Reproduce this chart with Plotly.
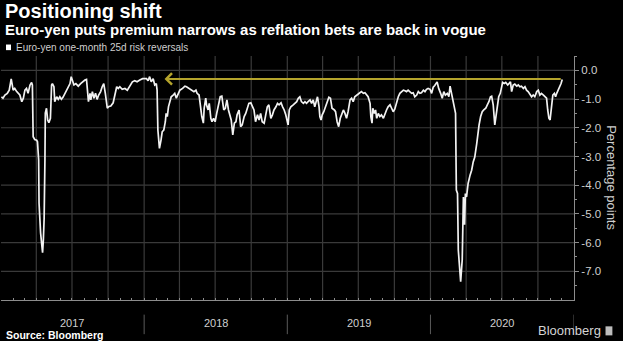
import plotly.graph_objects as go

# ---- data ----
d2017 = ["2017-01-02","2017-01-06","2017-01-11","2017-01-17","2017-01-22","2017-01-27","2017-02-01","2017-02-05",
         "2017-02-10","2017-02-14","2017-02-18","2017-02-23","2017-02-27","2017-03-03","2017-03-07","2017-03-11",
         "2017-03-16","2017-03-20","2017-03-22","2017-03-24","2017-03-28","2017-04-02","2017-04-04","2017-04-07",
         "2017-04-08","2017-04-12","2017-04-17","2017-04-19","2017-04-21","2017-04-23","2017-04-24","2017-04-27",
         "2017-04-30","2017-05-03","2017-05-07","2017-05-10","2017-05-12","2017-05-16","2017-05-18","2017-05-23",
         "2017-05-27","2017-05-31","2017-06-04","2017-06-08","2017-06-13","2017-06-17","2017-06-21","2017-06-26",
         "2017-06-29","2017-07-02","2017-07-06","2017-07-11","2017-07-17","2017-07-23","2017-07-28","2017-08-03",
         "2017-08-07","2017-08-10","2017-08-12","2017-08-16","2017-08-18","2017-08-22","2017-08-26","2017-08-30",
         "2017-09-03","2017-09-07","2017-09-12","2017-09-16","2017-09-20","2017-09-24","2017-09-29","2017-10-03",
         "2017-10-08","2017-10-14","2017-10-18","2017-10-23","2017-10-27","2017-10-31","2017-11-06","2017-11-13",
         "2017-11-19","2017-11-26","2017-12-02","2017-12-08","2017-12-14","2017-12-21","2017-12-28"]
v2017 = [-0.92,-0.97,-0.86,-0.80,-0.69,-0.30,-0.69,-0.63,
         -0.74,-0.80,-0.86,-1.09,-0.97,-0.69,-0.63,-0.80,
         -0.51,-0.42,-0.51,-2.31,-2.41,-2.43,-2.49,-3.12,
         -4.62,-5.67,-6.35,-5.90,-5.15,-3.12,-1.49,-1.32,
         -1.73,-1.82,-1.67,-0.51,-0.46,-0.57,-1.09,-0.92,
         -1.01,-0.92,-1.01,-0.94,-0.80,-0.74,-0.63,-0.46,
         -0.22,-0.34,-0.51,-0.46,-0.55,-0.46,-0.40,-0.34,
         -0.32,-0.69,-1.09,-0.80,-1.03,-0.74,-0.97,-0.80,
         -1.01,-0.86,-0.74,-0.57,-0.46,-0.80,-1.32,-1.26,
         -1.24,-1.13,-0.86,-0.57,-0.63,-0.57,-0.66,-0.63,
         -0.69,-0.51,-0.40,-0.36,-0.40,-0.34,-0.29]

d2018 = ["2018-01-07","2018-01-11","2018-01-15","2018-01-19","2018-01-24","2018-01-28","2018-02-01","2018-02-03",
         "2018-02-05","2018-02-08","2018-02-09","2018-02-13","2018-02-16","2018-02-20","2018-02-24","2018-02-26",
         "2018-03-01","2018-03-04","2018-03-07","2018-03-11","2018-03-16","2018-03-20","2018-03-24","2018-03-29",
         "2018-04-02","2018-04-09","2018-04-15","2018-04-19","2018-04-26","2018-05-02","2018-05-08","2018-05-13",
         "2018-05-16","2018-05-21","2018-05-25","2018-05-28","2018-06-01","2018-06-03","2018-06-07","2018-06-09",
         "2018-06-13","2018-06-16","2018-06-20","2018-06-23","2018-06-27","2018-07-01","2018-07-05","2018-07-10",
         "2018-07-14","2018-07-18","2018-07-23","2018-07-27","2018-07-31","2018-08-04","2018-08-07","2018-08-11",
         "2018-08-15","2018-08-19","2018-08-23","2018-08-26","2018-08-31","2018-09-04","2018-09-08","2018-09-13",
         "2018-09-17","2018-09-21","2018-09-25","2018-09-30","2018-10-04","2018-10-08","2018-10-12","2018-10-17",
         "2018-10-21","2018-10-25","2018-10-29","2018-11-03","2018-11-07","2018-11-11","2018-11-15","2018-11-20",
         "2018-11-24","2018-11-28","2018-12-03","2018-12-07","2018-12-11","2018-12-16","2018-12-20","2018-12-24",
         "2018-12-28","2018-12-31"]
v2018 = [-0.29,-0.36,-0.22,-0.40,-0.29,-0.51,-0.46,-0.69,
         -2.08,-2.43,-2.72,-2.43,-2.14,-2.08,-1.79,-1.50,
         -1.61,-1.27,-1.09,-0.92,-0.86,-0.80,-0.97,-0.78,
         -0.69,-0.63,-0.55,-0.57,-0.63,-0.66,-0.74,-0.69,
         -0.80,-0.86,-1.38,-1.61,-1.84,-1.32,-0.97,-1.20,
         -1.38,-1.15,-1.67,-1.79,-1.67,-1.79,-1.50,-1.15,
         -0.92,-0.90,-1.38,-1.32,-1.03,-1.38,-1.50,-1.73,
         -2.25,-1.84,-1.79,-1.55,-1.38,-1.96,-1.90,-1.61,
         -1.50,-1.27,-1.15,-1.13,-1.27,-1.38,-1.79,-1.55,
         -1.73,-1.50,-1.79,-1.84,-1.55,-1.27,-1.20,-1.67,
         -1.55,-1.38,-1.27,-1.15,-1.20,-1.13,-1.27,-1.38,
         -1.55,-1.73]

d2019 = ["2019-01-03","2019-01-06","2019-01-10","2019-01-16","2019-01-20","2019-01-25","2019-01-29","2019-02-02",
         "2019-02-06","2019-02-11","2019-02-15","2019-02-19","2019-02-23","2019-02-28","2019-03-04","2019-03-08",
         "2019-03-12","2019-03-17","2019-03-19","2019-03-23","2019-03-25","2019-03-28","2019-03-31","2019-04-04",
         "2019-04-08","2019-04-13","2019-04-17","2019-04-21","2019-04-25","2019-05-01","2019-05-04","2019-05-08",
         "2019-05-12","2019-05-16","2019-05-19","2019-05-24","2019-05-28","2019-06-01","2019-06-05","2019-06-10",
         "2019-06-14","2019-06-18","2019-06-22","2019-06-27","2019-07-01","2019-07-05","2019-07-09","2019-07-14",
         "2019-07-18","2019-07-22","2019-07-26","2019-07-31","2019-08-02","2019-08-05","2019-08-07","2019-08-11",
         "2019-08-14","2019-08-17","2019-08-21","2019-08-25","2019-08-29","2019-09-03","2019-09-07","2019-09-11",
         "2019-09-15","2019-09-20","2019-09-24","2019-09-28","2019-10-02","2019-10-07","2019-10-11","2019-10-15",
         "2019-10-19","2019-10-24","2019-10-28","2019-11-01","2019-11-05","2019-11-10","2019-11-14","2019-11-18",
         "2019-11-22","2019-11-27","2019-12-01","2019-12-05","2019-12-09","2019-12-14","2019-12-18","2019-12-22",
         "2019-12-26","2019-12-31"]
v2019 = [-1.90,-1.38,-1.27,-1.20,-1.15,-1.09,-0.97,-0.92,
         -1.09,-1.15,-1.09,-1.15,-1.09,-1.03,-1.15,-1.03,
         -1.27,-0.97,-0.92,-1.27,-1.61,-1.73,-1.55,-1.44,
         -1.27,-1.03,-0.94,-0.97,-1.32,-1.38,-1.44,-1.79,
         -1.96,-1.67,-1.55,-1.38,-1.50,-1.67,-1.44,-1.03,
         -0.97,-1.09,-0.92,-0.86,-0.80,-0.78,-0.74,-0.80,
         -0.78,-0.86,-0.92,-1.15,-1.61,-1.84,-1.32,-1.50,
         -1.38,-1.67,-1.50,-1.61,-1.55,-1.67,-1.50,-1.38,
         -1.27,-1.20,-1.32,-1.44,-1.35,-1.09,-0.92,-0.80,
         -0.74,-0.69,-0.71,-0.74,-0.69,-0.74,-0.80,-0.78,
         -0.92,-0.86,-0.74,-0.80,-0.78,-0.69,-0.74,-0.66,
         -0.63,-0.66]

d2020 = ["2020-01-04","2020-01-08","2020-01-12","2020-01-18","2020-01-22","2020-01-27","2020-01-31","2020-02-04",
         "2020-02-08","2020-02-13","2020-02-17","2020-02-20","2020-02-24","2020-02-27","2020-03-02","2020-03-05",
         "2020-03-07","2020-03-10","2020-03-12","2020-03-15","2020-03-18","2020-03-22","2020-03-25","2020-03-28",
         "2020-03-30","2020-04-02","2020-04-06","2020-04-11","2020-04-15","2020-04-19","2020-04-23","2020-04-28",
         "2020-05-02","2020-05-04","2020-05-08","2020-05-12","2020-05-16","2020-05-21","2020-05-25","2020-05-29",
         "2020-06-02","2020-06-05","2020-06-09","2020-06-13","2020-06-16","2020-06-20","2020-06-23","2020-06-27",
         "2020-06-30","2020-07-03","2020-07-07","2020-07-11","2020-07-16","2020-07-20","2020-07-23","2020-07-26",
         "2020-07-30","2020-08-03","2020-08-08","2020-08-12","2020-08-16","2020-08-20","2020-08-25","2020-08-29",
         "2020-09-02","2020-09-06","2020-09-11","2020-09-15","2020-09-19","2020-09-23","2020-09-28","2020-10-02",
         "2020-10-06","2020-10-10","2020-10-15","2020-10-19","2020-10-23","2020-10-26","2020-10-29","2020-11-01",
         "2020-11-05","2020-11-08","2020-11-12","2020-11-15","2020-11-18","2020-11-22","2020-11-25","2020-11-29",
         "2020-12-02"]
v2020 = [-0.80,-0.59,-0.53,-0.40,-0.63,-0.80,-0.97,-0.74,
         -0.86,-0.80,-0.92,-0.55,-0.80,-0.97,-1.32,-1.50,
         -4.17,-4.29,-6.26,-6.84,-7.36,-6.60,-4.41,-5.38,
         -4.29,-4.41,-3.94,-3.65,-3.48,-3.19,-3.02,-2.55,
         -1.96,-1.90,-1.61,-1.44,-1.38,-1.32,-1.20,-1.09,
         -0.92,-0.90,-1.20,-1.90,-1.61,-1.27,-0.92,-0.80,
         -0.63,-0.42,-0.46,-0.42,-0.51,-0.46,-0.40,-0.74,
         -0.51,-0.48,-0.55,-0.51,-0.57,-0.55,-0.63,-0.57,
         -0.69,-0.74,-0.86,-0.92,-0.86,-0.92,-0.74,-0.69,
         -0.86,-0.80,-0.86,-0.92,-0.97,-1.38,-1.67,-1.73,
         -1.27,-0.86,-0.80,-0.92,-0.80,-0.69,-0.57,-0.46,
         -0.32]

years = [2017, 2018, 2019, 2020]
year_labels = ["2017", "2018", "2019", "2020"]
quarter_months = [1, 4, 7, 10]
y_ticks = [0, -1, -2, -3, -4, -5, -6, -7]
y_range = [-8, 0.5]
arrow_from = "2020-12-02"
arrow_to = "2018-02-22"
arrow_level = -0.3

dates = d2017 + d2018 + d2019 + d2020
values = v2017 + v2018 + v2019 + v2020

FONT = "Liberation Sans, Arial, sans-serif"
GRID = "#3a3a3a"
AXIS = "#8c8c8c"
TXT = "#cfcfcf"
x_start = f"{years[0]}-01-01"
x_end = f"{years[-1] + 1}-01-01"

fig = go.Figure()

# gridlines drawn as thin line traces under the series
gx, gy = [], []
for v in y_ticks:
    gx += [x_start, x_end, None]
    gy += [v, v, None]
for yr in years:
    for m in quarter_months:
        if yr == years[0] and m == 1:
            continue
        d = f"{yr}-{m:02d}-01"
        gx += [d, d, None]
        gy += [y_range[0], y_range[1], None]
fig.add_trace(go.Scatter(x=gx, y=gy, mode="lines", line=dict(color=GRID, width=1.2),
                         hoverinfo="skip", connectgaps=False))

fig.add_trace(go.Scatter(x=dates, y=values, mode="lines",
                         line=dict(color="#f2f2f2", width=1.7),
                         hoverinfo="skip"))

# arrow
fig.add_annotation(x=arrow_to, y=arrow_level, ax=arrow_from, ay=arrow_level,
                   xref="x", yref="y", axref="x", ayref="y", text="",
                   showarrow=True, arrowhead=4, arrowsize=1.1, arrowwidth=2,
                   arrowcolor="#b5a42c", standoff=0, startstandoff=0)

# titles / legend / source
fig.add_annotation(text="<b>Positioning shift</b>", xref="paper", yref="paper",
                   x=0.003, y=1.185, xanchor="left", yanchor="middle", showarrow=False,
                   font=dict(family=FONT, size=20, color="white"))
fig.add_annotation(text="<b>Euro-yen puts premium narrows as reflation bets are back in vogue</b>",
                   xref="paper", yref="paper", x=0.003, y=1.108, xanchor="left", yanchor="middle",
                   showarrow=False, font=dict(family=FONT, size=15, color="white"))
fig.add_shape(type="rect", xref="paper", yref="paper", x0=0.0087, x1=0.0175, y0=1.024, y1=1.047,
              fillcolor="white", line=dict(width=0))
fig.add_annotation(text="Euro-yen one-month 25d risk reversals", xref="paper", yref="paper",
                   x=0.0225, y=1.036, xanchor="left", yanchor="middle", showarrow=False,
                   font=dict(family=FONT, size=10, color=TXT))
fig.add_annotation(text="<b>Source: Bloomberg</b>", xref="paper", yref="paper",
                   x=0.005, y=-0.143, xanchor="left", yanchor="middle", showarrow=False,
                   font=dict(family=FONT, size=10.5, color="white"))
fig.add_annotation(text="Bloomberg", xref="paper", yref="paper",
                   x=1.05, y=-0.127, xanchor="right", yanchor="middle", showarrow=False,
                   font=dict(family=FONT, size=13, color="#d4d4d4"))
fig.add_shape(type="rect", xref="paper", yref="paper", x0=1.055, x1=1.067, y0=-0.145, y1=-0.108,
              fillcolor="#bdbdbd", line=dict(width=0))
fig.add_annotation(text="Percentage points", xref="paper", yref="paper",
                   x=1.066, y=0.5, xanchor="center", yanchor="middle", textangle=90,
                   showarrow=False, font=dict(family=FONT, size=13, color=TXT))

# year labels and dividers
for yr, lab in zip(years, year_labels):
    fig.add_annotation(text=lab, x=f"{yr}-07-02", xref="x", yref="paper", y=-0.094,
                       yanchor="middle", showarrow=False, font=dict(family=FONT, size=11, color=TXT))
    fig.add_shape(type="line", x0=f"{yr+1}-01-01", x1=f"{yr+1}-01-01", xref="x", yref="paper",
                  y0=-0.06, y1=-0.14, line=dict(color="#5a5a5a", width=1))

fig.update_layout(
    width=623, height=341, margin=dict(l=1, r=49, t=56, b=41),
    paper_bgcolor="black", plot_bgcolor="black", showlegend=False,
    xaxis=dict(type="date", range=[x_start, x_end],
               showgrid=False, dtick="M1", tick0=x_start, showticklabels=False,
               ticks="inside", ticklen=2, tickcolor=AXIS,
               showline=True, linecolor=AXIS, linewidth=1, zeroline=False),
    yaxis=dict(side="right", range=y_range, tickmode="array", tickvals=y_ticks,
               ticktext=[f"{v:.1f}" for v in y_ticks], showgrid=False,
               showline=True, linecolor=AXIS, linewidth=1, zeroline=False,
               ticks="outside", ticklen=4, tickcolor=AXIS,
               tickfont=dict(family=FONT, size=11.5, color=TXT),
               minor=dict(tickmode="array", tickvals=[v - 0.5 for v in y_ticks] + [0.5],
                          ticks="outside", ticklen=2, tickcolor=AXIS, showgrid=False)),
)

fig.write_html("out.html")
